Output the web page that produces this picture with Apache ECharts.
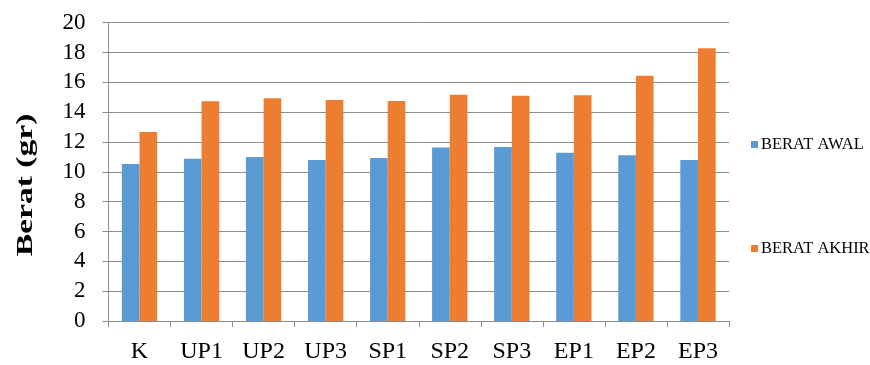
<!DOCTYPE html>
<html>
<head>
<meta charset="utf-8">
<script src="https://cdn.jsdelivr.net/npm/echarts@6/dist/echarts.min.js"></script>
<style>
  html, body { margin: 0; padding: 0; background: #ffffff; }
  #chart { width: 870px; height: 365px; }
</style>
</head>
<body>
<div id="chart"></div>
<script>
// Sample groups on the x axis
const categories = ['K', 'UP1', 'UP2', 'UP3', 'SP1', 'SP2', 'SP3', 'EP1', 'EP2', 'EP3'];
// Initial weight (gr)
const beratAwal = [10.52, 10.88, 10.99, 10.79, 10.93, 11.64, 11.66, 11.28, 11.11, 10.79];
// Final weight (gr)
const beratAkhir = [12.67, 14.73, 14.93, 14.82, 14.75, 15.17, 15.11, 15.13, 16.45, 18.28];
const seriesNames = ['BERAT AWAL', 'BERAT AKHIR'];
const yTitle = 'Berat (gr)';

const serif = 'Liberation Serif';
const gridGray = '#8c8c8c';

const chart = echarts.init(document.getElementById('chart'), null, { renderer: 'canvas' });
chart.setOption({
  animation: false,
  backgroundColor: '#ffffff',
  grid: { left: 108.5, right: 141, top: 22.7, bottom: 44, containLabel: false, outerBoundsMode: 'none' },
  legend: {
    orient: 'vertical',
    left: 746,
    top: 131,
    itemWidth: 7,
    itemHeight: 7,
    itemGap: 87,
    icon: 'rect',
    data: seriesNames,
    textStyle: { fontFamily: serif, fontSize: 16.5, color: '#000', lineHeight: 16, padding: [0, 0, 0, -2] }
  },
  // rotated axis title, drawn slightly stretched along its reading direction
  graphic: [{
    type: 'text',
    x: 26,
    y: 185,
    rotation: Math.PI / 2,
    scaleX: 1.4,
    style: {
      text: yTitle,
      fontFamily: serif,
      fontSize: 24,
      fontWeight: 'bold',
      fill: '#000',
      align: 'center',
      verticalAlign: 'middle'
    }
  }],
  xAxis: {
    type: 'category',
    data: categories,
    boundaryGap: true,
    axisLine: { lineStyle: { color: gridGray, width: 1 } },
    axisTick: { show: true, alignWithLabel: false, length: 6, lineStyle: { color: gridGray } },
    axisLabel: { fontFamily: serif, fontSize: 24, color: '#000', margin: 19 }
  },
  yAxis: {
    type: 'value',
    min: 0,
    max: 20,
    interval: 2,
    axisLine: { show: true, lineStyle: { color: gridGray, width: 1 } },
    axisTick: { show: true, length: 6, lineStyle: { color: gridGray } },
    axisLabel: { fontFamily: serif, fontSize: 23, color: '#000', margin: 23 },
    splitLine: { show: true, lineStyle: { color: gridGray, width: 1 } }
  },
  series: [
    {
      name: seriesNames[0],
      type: 'bar',
      data: beratAwal,
      barGap: '0%',
      barCategoryGap: '43%',
      itemStyle: { color: '#5B9BD5' }
    },
    {
      name: seriesNames[1],
      type: 'bar',
      data: beratAkhir,
      barGap: '0%',
      barCategoryGap: '43%',
      itemStyle: { color: '#ED7D31' }
    }
  ]
});
</script>
</body>
</html>
